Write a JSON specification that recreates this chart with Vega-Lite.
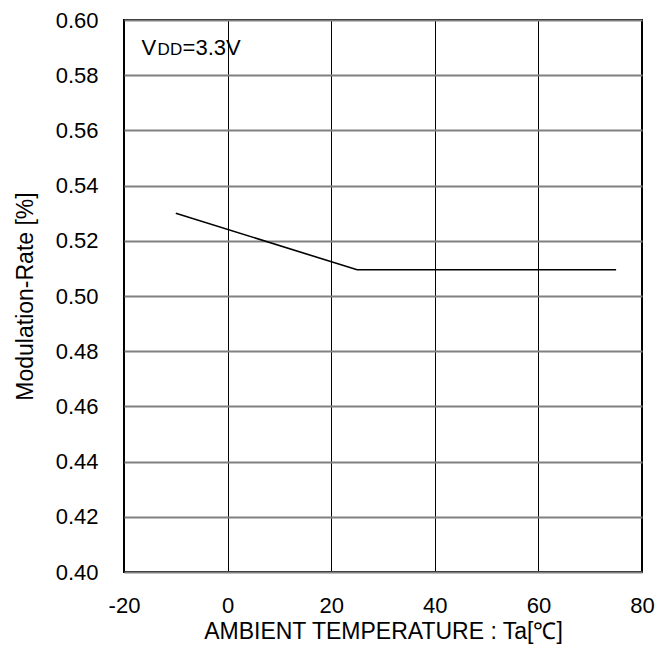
{
  "$schema": "https://vega.github.io/schema/vega-lite/v6.json",
  "width": 518,
  "height": 552,
  "autosize": {"type": "none"},
  "padding": {"left": 124, "top": 20, "right": 30, "bottom": 77},
  "background": "white",
  "config": {
    "font": "Liberation Sans",
    "view": {"stroke": "black", "strokeWidth": 2},
    "axis": {
      "labelFont": "Liberation Sans",
      "titleFont": "Liberation Sans",
      "labelColor": "black",
      "titleColor": "black",
      "labelFontSize": 22,
      "titleFontSize": 23,
      "titleFontWeight": "normal",
      "ticks": false,
      "domain": false
    }
  },
  "data": {
    "values": [
      {"ta": -10, "rate": 0.530},
      {"ta": 25, "rate": 0.5095},
      {"ta": 75, "rate": 0.5095}
    ]
  },
  "layer": [
    {
      "mark": {"type": "line", "color": "black", "strokeWidth": 1.6, "clip": true},
      "encoding": {
        "x": {
          "field": "ta",
          "type": "quantitative",
          "scale": {"domain": [-20, 80], "nice": false},
          "axis": {
            "values": [-20, 0, 20, 40, 60, 80],
            "labelExpr": "datum.value < 0 ? '-' + abs(datum.value) : '' + datum.value",
            "title": "AMBIENT TEMPERATURE : Ta[℃]",
            "labelPadding": 23,
            "titlePadding": 4,
            "gridColor": "black",
            "gridWidth": 1,
            "labelFlush": false
          }
        },
        "y": {
          "field": "rate",
          "type": "quantitative",
          "scale": {"domain": [0.40, 0.60], "nice": false, "zero": false},
          "axis": {
            "values": [0.40, 0.42, 0.44, 0.46, 0.48, 0.50, 0.52, 0.54, 0.56, 0.58, 0.60],
            "format": ".2f",
            "title": "Modulation-Rate [%]",
            "labelPadding": 26,
            "titlePadding": 18,
            "gridColor": "#808080",
            "gridWidth": 2,
            "labelFlush": false
          }
        }
      }
    },
    {
      "data": {"values": [{"ta": -16.6, "rate": 0.5873, "t": "V"}]},
      "mark": {"type": "text", "align": "left", "baseline": "alphabetic", "fontSize": 22, "color": "black"},
      "encoding": {
        "x": {"field": "ta", "type": "quantitative"},
        "y": {"field": "rate", "type": "quantitative"},
        "text": {"field": "t"}
      }
    },
    {
      "data": {"values": [{"ta": -16.6, "rate": 0.5873, "t": "DD"}]},
      "mark": {"type": "text", "align": "left", "baseline": "alphabetic", "fontSize": 17, "dx": 16, "color": "black"},
      "encoding": {
        "x": {"field": "ta", "type": "quantitative"},
        "y": {"field": "rate", "type": "quantitative"},
        "text": {"field": "t"}
      }
    },
    {
      "data": {"values": [{"ta": -16.6, "rate": 0.5873, "t": "=3.3V"}]},
      "mark": {"type": "text", "align": "left", "baseline": "alphabetic", "fontSize": 22, "dx": 41, "color": "black"},
      "encoding": {
        "x": {"field": "ta", "type": "quantitative"},
        "y": {"field": "rate", "type": "quantitative"},
        "text": {"field": "t"}
      }
    }
  ]
}
